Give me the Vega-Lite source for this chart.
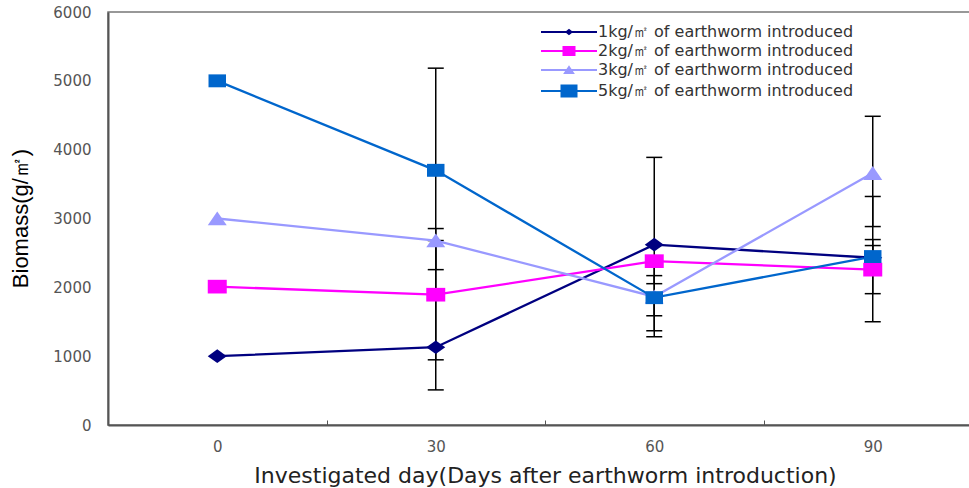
{
  "$schema": "https://vega.github.io/schema/vega-lite/v6.json",
  "autosize": {"type": "none"},
  "padding": {"left": 108, "top": 12, "right": 0, "bottom": 63},
  "width": 874,
  "height": 413,
  "background": "white",
  "config": {
    "view": {"stroke": "#777777", "strokeWidth": 1.5},
    "font": "DejaVu Sans",
    "legend": {
      "orient": "none", "legendX": 433, "legendY": 12, "title": null, "padding": 0,
      "symbolSize": 100, "symbolOffset": 20, "rowPadding": 3, "labelOffset": 21,
      "labelFont": "DejaVu Sans", "labelFontSize": 16, "labelColor": "#333333", "labelLimit": 500,
      "symbolStrokeWidth": 2, "symbolOpacity": 1
    }
  },
  "datasets": {
    "means": [
      {"day": 0, "series": "1kg/㎡ of earthworm introduced", "biomass": 1000},
      {"day": 30, "series": "1kg/㎡ of earthworm introduced", "biomass": 1130},
      {"day": 60, "series": "1kg/㎡ of earthworm introduced", "biomass": 2620},
      {"day": 90, "series": "1kg/㎡ of earthworm introduced", "biomass": 2430},
      {"day": 0, "series": "2kg/㎡ of earthworm introduced", "biomass": 2010},
      {"day": 30, "series": "2kg/㎡ of earthworm introduced", "biomass": 1893},
      {"day": 60, "series": "2kg/㎡ of earthworm introduced", "biomass": 2380},
      {"day": 90, "series": "2kg/㎡ of earthworm introduced", "biomass": 2257},
      {"day": 0, "series": "3kg/㎡ of earthworm introduced", "biomass": 3000},
      {"day": 30, "series": "3kg/㎡ of earthworm introduced", "biomass": 2680},
      {"day": 60, "series": "3kg/㎡ of earthworm introduced", "biomass": 1864},
      {"day": 90, "series": "3kg/㎡ of earthworm introduced", "biomass": 3660},
      {"day": 0, "series": "5kg/㎡ of earthworm introduced", "biomass": 5000},
      {"day": 30, "series": "5kg/㎡ of earthworm introduced", "biomass": 3700},
      {"day": 60, "series": "5kg/㎡ of earthworm introduced", "biomass": 1850},
      {"day": 90, "series": "5kg/㎡ of earthworm introduced", "biomass": 2447}
    ],
    "errors": [
      {"day": 30, "series": "1kg/㎡ of earthworm introduced", "low": 510, "high": 1879},
      {"day": 30, "series": "2kg/㎡ of earthworm introduced", "low": 947, "high": 2854},
      {"day": 30, "series": "3kg/㎡ of earthworm introduced", "low": 1820, "high": 2680},
      {"day": 30, "series": "5kg/㎡ of earthworm introduced", "low": 2257, "high": 5184},
      {"day": 60, "series": "1kg/㎡ of earthworm introduced", "low": 1369, "high": 3888},
      {"day": 60, "series": "2kg/㎡ of earthworm introduced", "low": 2053, "high": 2380},
      {"day": 60, "series": "3kg/㎡ of earthworm introduced", "low": 1587, "high": 2170},
      {"day": 60, "series": "5kg/㎡ of earthworm introduced", "low": 1282, "high": 1922},
      {"day": 90, "series": "1kg/㎡ of earthworm introduced", "low": 1500, "high": 3320},
      {"day": 90, "series": "2kg/㎡ of earthworm introduced", "low": 1908, "high": 2607},
      {"day": 90, "series": "3kg/㎡ of earthworm introduced", "low": 2883, "high": 4485},
      {"day": 90, "series": "5kg/㎡ of earthworm introduced", "low": 2200, "high": 2694}
    ]
  },
  "resolve": {"scale": {"shape": "independent", "color": "independent"}},
  "layer": [
    {
      "data": {"name": "errors"},
      "mark": {"type": "rule", "color": "#000000", "strokeWidth": 1.5},
      "encoding": {
        "x": {
          "field": "day", "type": "ordinal", "bandPosition": 0.5,
          "scale": {"type": "band", "paddingInner": 0, "paddingOuter": 0, "domain": [0, 30, 60, 90]},
          "axis": {
            "title": "Investigated day(Days after earthworm introduction)",
            "titleFont": "DejaVu Sans", "titleFontSize": 22, "titleFontWeight": "normal", "titleColor": "#222222",
            "titleBaseline": "middle", "titleY": 50,
            "labelAngle": 0, "labelFont": "DejaVu Sans", "labelFontSize": 15, "labelColor": "#555555", "labelPadding": 19,
            "domainColor": "#555555", "domainWidth": 2,
            "tickBand": "extent", "tickSize": -5, "tickColor": "#555555", "tickWidth": 1,
            "grid": false
          }
        },
        "y": {
          "field": "low", "type": "quantitative",
          "scale": {"domain": [0, 6000], "nice": false, "zero": true},
          "axis": {
            "title": "Biomass(g/㎡)",
            "titleFont": "Liberation Sans", "titleFontSize": 22, "titleFontWeight": "normal", "titleColor": "#000000",
            "titleAngle": -90, "titleAlign": "center", "titleBaseline": "middle", "titleX": -88, "titleY": 206,
            "values": [0, 1000, 2000, 3000, 4000, 5000, 6000], "format": "d",
            "labelFont": "DejaVu Sans", "labelFontSize": 15, "labelColor": "#555555", "labelPadding": 17,
            "labelFlush": false, "labelOverlap": false,
            "ticks": false, "grid": false,
            "domainColor": "#555555", "domainWidth": 2
          }
        },
        "y2": {"field": "high"}
      }
    },
    {
      "data": {"name": "errors"},
      "mark": {"type": "tick", "color": "#000000", "size": 16, "thickness": 1.5, "opacity": 1},
      "encoding": {
        "x": {"field": "day", "type": "ordinal", "bandPosition": 0.5},
        "y": {"field": "low", "type": "quantitative"}
      }
    },
    {
      "data": {"name": "errors"},
      "mark": {"type": "tick", "color": "#000000", "size": 16, "thickness": 1.5, "opacity": 1},
      "encoding": {
        "x": {"field": "day", "type": "ordinal", "bandPosition": 0.5},
        "y": {"field": "high", "type": "quantitative"}
      }
    },
    {
      "data": {"name": "means"},
      "mark": {"type": "line", "strokeWidth": 2.3},
      "encoding": {
        "x": {"field": "day", "type": "ordinal", "bandPosition": 0.5},
        "y": {"field": "biomass", "type": "quantitative"},
        "color": {
          "field": "series", "type": "nominal", "legend": null,
          "scale": {
            "domain": ["1kg/㎡ of earthworm introduced", "2kg/㎡ of earthworm introduced", "3kg/㎡ of earthworm introduced", "5kg/㎡ of earthworm introduced"],
            "range": ["#000080", "#ff00ff", "#9999ff", "#0066cc"]
          }
        }
      }
    },
    {
      "data": {"name": "means"},
      "mark": {"type": "point", "filled": true, "opacity": 1, "size": 361, "strokeWidth": 0},
      "encoding": {
        "x": {"field": "day", "type": "ordinal", "bandPosition": 0.5},
        "y": {"field": "biomass", "type": "quantitative"},
        "color": {
          "field": "series", "type": "nominal", "legend": null,
          "scale": {
            "domain": ["1kg/㎡ of earthworm introduced", "2kg/㎡ of earthworm introduced", "3kg/㎡ of earthworm introduced", "5kg/㎡ of earthworm introduced"],
            "range": ["#000080", "#ff00ff", "#9999ff", "#0066cc"]
          }
        },
        "shape": {
          "field": "series", "type": "nominal", "legend": null,
          "scale": {
            "domain": ["1kg/㎡ of earthworm introduced", "2kg/㎡ of earthworm introduced", "3kg/㎡ of earthworm introduced", "5kg/㎡ of earthworm introduced"],
            "range": [
              "M0,-0.72L1,0L0,0.72L-1,0Z",
              "M-1,-0.72L1,-0.72L1,0.72L-1,0.72Z",
              "M0,-0.75L1,0.72L-1,0.72Z",
              "M-0.92,-0.68L0.92,-0.68L0.92,0.68L-0.92,0.68Z"
            ]
          }
        }
      }
    },
    {
      "data": {"name": "means"},
      "mark": {"type": "point", "filled": false, "opacity": 0, "strokeWidth": 2},
      "encoding": {
        "x": {"field": "day", "type": "ordinal", "bandPosition": 0.5},
        "y": {"field": "biomass", "type": "quantitative"},
        "color": {
          "field": "series", "type": "nominal",
          "scale": {
            "domain": ["1kg/㎡ of earthworm introduced", "2kg/㎡ of earthworm introduced", "3kg/㎡ of earthworm introduced", "5kg/㎡ of earthworm introduced"],
            "range": ["#000080", "#ff00ff", "#9999ff", "#0066cc"]
          }
        },
        "shape": {
          "field": "series", "type": "nominal",
          "scale": {
            "domain": ["1kg/㎡ of earthworm introduced", "2kg/㎡ of earthworm introduced", "3kg/㎡ of earthworm introduced", "5kg/㎡ of earthworm introduced"],
            "range": [
              "M-5.6,0L5.6,0M0,-0.4L0.5,0L0,0.4L-0.5,0Z",
              "M-5.6,0L5.6,0M-1.1,-0.8L1.1,-0.8L1.1,0.8L-1.1,0.8ZM-1.1,-0.4L1.1,-0.4M-1.1,0.4L1.1,0.4",
              "M-5.6,0L5.6,0M0,-0.6L0.8,0.6L-0.8,0.6ZM-0.53,0.2L0.53,0.2M-0.27,-0.2L0.27,-0.2",
              "M-5.6,0L5.6,0M-1.5,-1.1L1.5,-1.1L1.5,1.1L-1.5,1.1ZM-1.5,-0.75L1.5,-0.75M-1.5,-0.4L1.5,-0.4M-1.5,0.4L1.5,0.4M-1.5,0.75L1.5,0.75"
            ]
          }
        }
      }
    }
  ]
}
